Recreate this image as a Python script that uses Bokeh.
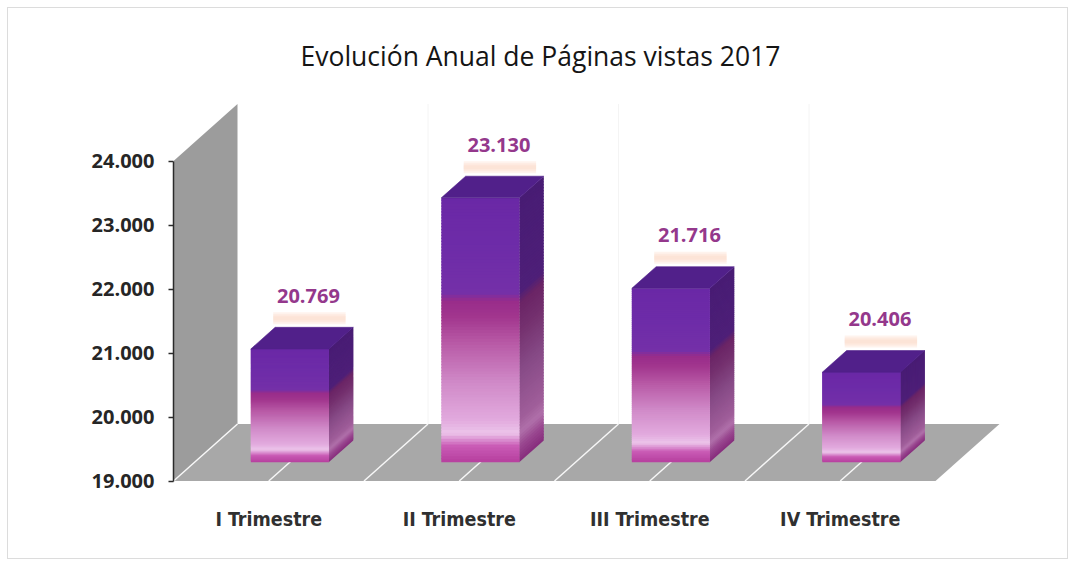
import numpy as np
from bokeh.plotting import figure
from bokeh.models import FixedTicker, Range1d, CustomJSTickFormatter
from bokeh.core.properties import value
from bokeh.embed import file_html
from bokeh.resources import INLINE

# ---------------- data ----------------
title_text = "Evolución Anual de Páginas vistas 2017"
categories = ["I Trimestre", "II Trimestre", "III Trimestre", "IV Trimestre"]
page_views = [20769, 23130, 21716, 20406]
y_ticks = [19000, 20000, 21000, 22000, 23000, 24000]
y_tick_labels = ["19.000", "20.000", "21.000", "22.000", "23.000", "24.000"]

# ---------------- geometry (styles) ----------------
W, H = 1061, 552
BL, BR, BT, BB = 165, 19, 72, 60
FRAME_W = W - BL - BR
FRAME_H = H - BT - BB
PX_SLOT = 190.5          # px per category slot
PX_UNIT = 0.064          # px per page view
Y0 = y_ticks[0]
Y_TOP = y_ticks[-1]
DX = 64 / PX_SLOT        # full depth offset, x data units
DY = 57 / PX_UNIT        # full depth offset, y data units
D0, D1 = 0.33, 0.71      # bar depth span
BAR_W = 0.41
y_start = Y0 - 19.5 / PX_UNIT
y_end = y_start + FRAME_H / PX_UNIT
x_end = FRAME_W / PX_SLOT

p = figure(width=W, height=H, output_backend="svg", toolbar_location=None,
           x_range=Range1d(0, x_end), y_range=Range1d(y_start, y_end),
           min_border_left=BL, min_border_right=BR, min_border_top=BT, min_border_bottom=BB,
           background_fill_color="white", border_fill_color="white",
           styles={"border": "1px solid #dcdcdc", "margin": "7px 0 0 7px"})
p.outline_line_color = None
p.grid.visible = False

p.title.text = title_text
p.title.align = "left"
p.title.offset = 127
p.title.standoff = 14
p.title.text_font = "Open Sans"
p.title.text_font_size = "26.5px"
p.title.text_font_style = "normal"
p.title.text_color = "#151515"

# ---------------- axes ----------------
ya = p.yaxis[0]
ya.ticker = FixedTicker(ticks=y_ticks)
ya.formatter = CustomJSTickFormatter(args=dict(t=y_ticks, l=y_tick_labels),
                                     code="const i = t.indexOf(tick); return i >= 0 ? l[i] : '';")
ya.bounds = (Y0, Y_TOP)
ya.axis_line_color = "#2b2b2b"
ya.axis_line_width = 1.5
ya.major_tick_line_color = "#2b2b2b"
ya.major_tick_line_width = 1.5
ya.major_tick_out = 5
ya.major_tick_in = 0
ya.minor_tick_line_color = None
ya.major_label_standoff = 14
ya.major_label_text_font = "Open Sans"
ya.major_label_text_font_style = "bold"
ya.major_label_text_font_size = "20px"
ya.major_label_text_color = "#262626"

xa = p.xaxis[0]
xa.ticker = FixedTicker(ticks=[i + 0.5 for i in range(len(categories))])
xa.formatter = CustomJSTickFormatter(args=dict(c=categories), code="return c[Math.round(tick - 0.5)];")
xa.axis_line_color = None
xa.major_tick_line_color = None
xa.minor_tick_line_color = None
xa.major_label_standoff = 1
xa.major_label_text_font = "'Liberation Sans Narrow', 'DejaVu Sans Condensed', Roboto, sans-serif"
xa.major_label_text_font_style = "bold"
xa.major_label_text_font_size = "19.5px"
xa.major_label_text_color = "#303030"

n = len(categories)

# ---------------- walls ----------------
p.patch([0, 0, DX, DX], [Y0, Y_TOP, Y_TOP + DY, Y0 + DY], fill_color="#9c9c9c", line_color=None)
p.patch([0, n, n + DX, DX], [Y0, Y0, Y0 + DY, Y0 + DY], fill_color="#a8a8a8", line_color=None)

# faint back-wall dividers
p.segment(x0=[k + DX for k in range(1, n)], y0=[Y0 + DY] * (n - 1),
          x1=[k + DX for k in range(1, n)], y1=[Y_TOP + DY] * (n - 1),
          line_color="#f4f4f4", line_width=1)

# floor dividers (boundaries + centers)
fx = [k * 0.5 for k in range(0, 2 * n)]
p.segment(x0=fx, y0=[Y0] * len(fx), x1=[x + DX for x in fx], y1=[Y0 + DY] * len(fx),
          line_color="white", line_width=1.5, line_alpha=0.9)

# ---------------- gradient helpers ----------------
def hex2rgb(h):
    h = h.lstrip("#")
    return np.array([int(h[i:i + 2], 16) for i in (0, 2, 4)], dtype=float)

def grad(stops, t):
    ts = [s[0] for s in stops]
    cs = [hex2rgb(s[1]) for s in stops]
    for j in range(len(ts) - 1):
        if ts[j] <= t <= ts[j + 1]:
            f = (t - ts[j]) / (ts[j + 1] - ts[j]) if ts[j + 1] > ts[j] else 0
            c = cs[j] + (cs[j + 1] - cs[j]) * f
            return "#%02x%02x%02x" % tuple(int(round(v)) for v in c)
    return stops[-1][1]

FRONT = [(0.00, "#b63f9e"), (0.06, "#c95ab5"), (0.11, "#ecc4ea"), (0.16, "#e2aade"),
         (0.30, "#d08ac8"), (0.45, "#b85aa6"), (0.55, "#a2368e"), (0.61, "#982c8a"),
         (0.64, "#7430a8"), (0.80, "#6e2ca8"), (1.00, "#6a28a6")]
SIDE = [(0.00, "#862c7c"), (0.06, "#9a4890"), (0.11, "#b070aa"), (0.16, "#a05e9a"),
        (0.35, "#864a86"), (0.50, "#74306e"), (0.60, "#6a2466"), (0.64, "#4e1f78"),
        (1.00, "#481c74")]
TOP_COLOR = "#51208a"

N = 90
OVER = 1.2 / PX_UNIT     # stripe overlap to hide seams
fl, fr, fb, ft, fc = [], [], [], [], []
sxs, sys_, sc = [], [], []
txs, tys = [], []
gl, gr, gb, gt = [], [], [], []
lx, ly, lt = [], [], []
bdx = (D1 - D0) * DX
bdy = (D1 - D0) * DY
for i, v in enumerate(page_views):
    xl = i + 0.5 - BAR_W / 2 + D0 * DX
    xr = xl + BAR_W
    yb = Y0 + D0 * DY
    yt = v + D0 * DY
    edges = np.linspace(yb, yt, N + 1)
    for k in range(N):
        tm = (k + 0.5) / N
        top = edges[k + 1] + (OVER if k < N - 1 else 0)
        fl.append(xl); fr.append(xr); fb.append(edges[k]); ft.append(top)
        fc.append(grad(FRONT, tm))
        sxs.append([xr - 0.001, xr - 0.001, xr + bdx, xr + bdx])
        sys_.append([edges[k], top, top + bdy, edges[k] + bdy])
        sc.append(grad(SIDE, tm))
    txs.append([xl, xr, xr + bdx, xl + bdx])
    tys.append([yt, yt, yt + bdy, yt + bdy])
    lx.append(i + 0.5 + 0.62 * DX)
    ly.append(yt + 53 / PX_UNIT)
    lt.append(f"{v:,}".replace(",", "."))
    # soft glow layers
    for g, (lo, hi) in enumerate([(3, 15), (5, 13), (7, 11)]):
        gl.append(xl + bdx - 0.01); gr.append(xr + bdx - 0.04)
        gb.append(yt + bdy + lo / PX_UNIT); gt.append(yt + bdy + hi / PX_UNIT)

p.patches(xs=sxs, ys=sys_, fill_color=sc, line_color=None)
p.quad(left=fl, right=fr, bottom=fb, top=ft, fill_color=fc, line_color=None)
p.patches(xs=txs, ys=tys, fill_color=TOP_COLOR, line_color=TOP_COLOR, line_width=0.6)

# soft peach glow above each bar
p.quad(left=gl, right=gr, bottom=gb, top=gt, fill_color="#fbd8c2", fill_alpha=0.3, line_color=None)

# value labels
p.text(x=lx, y=ly, text=lt, text_align="center", text_baseline="middle",
       text_font=value("Open Sans"), text_font_style="bold", text_font_size="20px",
       text_color="#94388c")

open("out.html", "w").write(file_html(p, INLINE))
